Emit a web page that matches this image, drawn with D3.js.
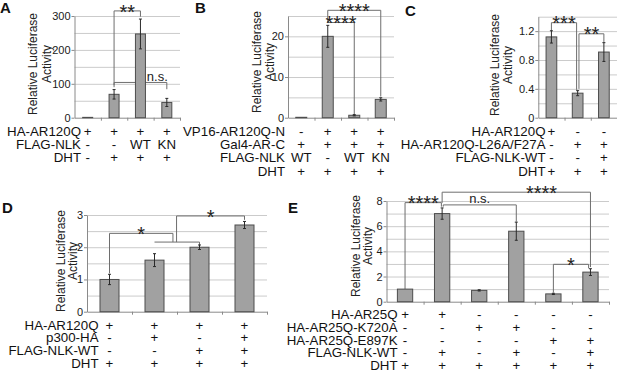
<!DOCTYPE html>
<html>
<head>
<meta charset="utf-8">
<script src="https://cdn.jsdelivr.net/npm/d3@7"></script>
<style>
  body { margin: 0; background: #fff; }
  svg { display: block; font-family: "Liberation Sans", Arial, sans-serif; }
  .grid line { stroke: #cbcbcb; }
  .grid path { display: none; }
  .axis path, .axis line { stroke: #8a8a8a; }
  .axis text { font-size: 11px; fill: #1a1a1a; }
  .bar { fill: #a1a1a1; stroke: #4d4d4d; stroke-width: 1; }
  .err { stroke: #2a2a2a; fill: none; }
  .bracket { stroke: #6e6e6e; fill: none; }
  .row { font-size: 13.3px; fill: #111; }
  .ytitle { font-size: 12px; fill: #222; }
  .letter { font-size: 15px; font-weight: bold; fill: #111; }
</style>
</head>
<body>
<svg id="fig" width="617" height="372"></svg>
<script>
// ---- panel A ----
var aValues = [1, 69, 247, 45];
var aErrors = [0, 14, 44, 12];
var aTicks = [0, 100, 200, 300];
var aRows = ["HA-AR120Q", "FLAG-NLK", "DHT"];
var aMarks = [["+", "+", "+", "+"], ["-", "-", "WT", "KN"], ["-", "+", "+", "+"]];
var aBrackets = [
  {from: 1, to: 3, y: 104, left: 90, right: 84, label: "n.s.", at: 2.64},
  {from: 1, to: 2, y: 315, left: 96, right: 298, label: "**"}
];

// ---- panel B ----
var bValues = [0.1, 20, 0.6, 4.5];
var bErrors = [0, 2.7, 0.15, 0.4];
var bTicks = [0, 10, 20];
var bRows = ["VP16-AR120Q-N", "Gal4-AR-C", "FLAG-NLK", "DHT"];
var bMarks = [["-", "+", "+", "+"], ["+", "+", "+", "+"], ["WT", "-", "WT", "KN"], ["+", "+", "+", "+"]];
var bBrackets = [
  {from: 1, to: 3, y: 26.4, left: 23.4, right: 5.2, label: "****"},
  {from: 1, to: 2, y: 23.4, left: null, right: 0.7, label: "****"}
];

// ---- panel C ----
var cValues = [1.12, 0.34, 0.91];
var cErrors = [0.085, 0.035, 0.13];
var cTicks = [0, 0.4, 0.8, 1.2];
var cRows = ["HA-AR120Q", "HA-AR120Q-L26A/F27A", "FLAG-NLK-WT", "DHT"];
var cMarks = [["+", "-", "-"], ["-", "+", "+"], ["-", "-", "+"], ["+", "+", "+"]];
var cBrackets = [
  {from: 0, to: 0.96, y: 1.317, left: 1.2, right: 0.386, label: "***"},
  {from: 1.05, to: 2, y: 1.163, left: 0.4, right: 1.05, label: "**"}
];

// ---- panel D ----
var dValues = [1.0, 1.6, 2.0, 2.69];
var dErrors = [0.16, 0.2, 0.07, 0.11];
var dTicks = [0, 1, 2, 3];
var dRows = ["HA-AR120Q", "p300-HA", "FLAG-NLK-WT", "DHT"];
var dMarks = [["+", "+", "+", "+"], ["-", "+", "-", "+"], ["-", "-", "+", "+"], ["+", "+", "+", "+"]];
var dBrackets = [
  {from: 0, to: 1.41, y: 2.43, left: 1.19, right: 2.16, label: "*"},
  {from: 1, to: 2, y: 2.16, left: null, right: 2.07, label: ""},
  {from: 1.49, to: 3, y: 2.97, left: 2.16, right: 2.85, label: "*"}
];

// ---- panel E ----
var eValues = [1.0, 7.0, 0.9, 5.6, 0.62, 2.35];
var eErrors = [0, 0.45, 0.05, 0.72, 0.05, 0.27];
var eTicks = [0, 2, 4, 6, 8];
var eRows = ["HA-AR25Q", "HA-AR25Q-K720A", "HA-AR25Q-E897K", "FLAG-NLK-WT", "DHT"];
var eMarks = [
  ["+", "+", "-", "-", "-", "-"],
  ["-", "-", "+", "+", "-", "-"],
  ["-", "-", "-", "-", "+", "+"],
  ["-", "+", "-", "+", "-", "+"],
  ["+", "+", "+", "+", "+", "+"]
];
var eBrackets = [
  {from: 0, to: 0.98, y: 7.87, left: 1.01, right: 7.55, label: "****"},
  {from: 1.03, to: 3, y: 7.69, left: 7.55, right: 6.36, label: "n.s."},
  {from: 1.0, to: 5, y: 8.7, left: 7.85, right: 2.75, label: "****", at: 3.68},
  {from: 4, to: 4.95, y: 2.97, left: 0.72, right: 2.65, label: "*"}
];

var svg = d3.select("#fig");

function panel(geom, values, errors, ticks, rows, marks, brackets) {
  var n = values.length;
  var g = svg.append("g");

  var x = d3.scaleLinear()
    .domain([-0.5, n - 0.5])
    .range([geom.left, geom.right]);
  var y = d3.scaleLinear()
    .domain([0, geom.max])
    .range([geom.zero, geom.top]);

  var gridVals = d3.range(1, Math.round(geom.max / geom.grid) + 1).map(function(i) { return i * geom.grid; });

  g.append("g")
    .attr("class", "grid")
    .attr("transform", "translate(" + geom.left + ",0)")
    .call(d3.axisLeft(y).tickValues(gridVals).tickSize(-(geom.right - geom.left)).tickFormat(""));

  g.append("g")
    .attr("class", "axis")
    .attr("transform", "translate(" + geom.left + ",0)")
    .call(d3.axisLeft(y).tickValues(ticks).tickSize(3).tickSizeOuter(0).tickPadding(1)
      .tickFormat(function(d) { return d; }));

  g.append("g")
    .attr("class", "axis")
    .attr("transform", "translate(0," + geom.zero + ")")
    .call(d3.axisBottom(x).tickValues(d3.range(n).map(function(i) { return i + 0.5; }))
      .tickSize(3).tickSizeOuter(0).tickFormat(""));

  // brackets go under the bars
  brackets.forEach(function(b) {
    var x1 = x(b.from), x2 = x(b.to), yy = y(b.y);
    var d = "M" + x1 + "," + yy + "H" + x2;
    if (b.left != null) d += "M" + x1 + "," + yy + "V" + y(b.left);
    if (b.right != null) d += "M" + x2 + "," + yy + "V" + y(b.right);
    g.append("path").attr("class", "bracket").attr("d", d);

    if (!b.label) return;
    var cx = x(b.at != null ? b.at : (b.from + b.to) / 2);
    if (b.label.charAt(0) == "*") {
      g.append("text")
        .attr("x", cx).attr("y", yy + 7.6)
        .attr("text-anchor", "middle")
        .style("font-size", "20px").style("fill", "#222")
        .text(b.label);
    } else {
      g.append("text")
        .attr("x", cx).attr("y", yy - 1.5)
        .attr("text-anchor", "middle")
        .style("font-size", "13px").style("fill", "#222")
        .text(b.label);
    }
  });

  g.selectAll(".bar")
    .data(values).enter()
    .append("rect")
    .attr("class", "bar")
    .attr("x", function(d, i) { return x(i) - geom.barW / 2; })
    .attr("y", function(d) { return y(d); })
    .attr("width", geom.barW)
    .attr("height", function(d) { return geom.zero - y(d); });

  g.selectAll(".err")
    .data(values).enter()
    .append("path")
    .attr("class", "err")
    .attr("d", function(d, i) {
      var e = errors[i];
      if (!e) return null;
      var cx = x(i), t = y(d + e), bt = y(d - e);
      return "M" + cx + "," + t + "V" + bt +
        "M" + (cx - 1.5) + "," + t + "H" + (cx + 1.5) +
        "M" + (cx - 1.5) + "," + bt + "H" + (cx + 1.5);
    });

  // y title, two lines
  [["Relative Luciferase", geom.t1], ["Activity", geom.t2]].forEach(function(l) {
    g.append("text")
      .attr("class", "ytitle")
      .attr("text-anchor", "middle")
      .attr("transform", "translate(" + l[1] + "," + geom.tmid + ") rotate(-90)")
      .text(l[0]);
  });

  // condition table under the bars
  rows.forEach(function(r, j) {
    var cy = geom.row0 + j * geom.rowGap;
    g.append("text")
      .attr("class", "row")
      .attr("x", geom.labelRight).attr("y", cy).attr("dy", "0.36em")
      .attr("text-anchor", "end")
      .text(r);
    g.selectAll(null)
      .data(marks[j]).enter()
      .append("text")
      .attr("class", "row")
      .attr("x", function(d, i) { return x(i); })
      .attr("y", cy).attr("dy", "0.36em")
      .attr("text-anchor", "middle")
      .text(function(d) { return d; });
  });

  g.append("text")
    .attr("class", "letter")
    .attr("x", geom.lx).attr("y", geom.ly)
    .text(geom.letter);
}

panel({letter: "A", lx: 0, ly: 13, left: 74.5, right: 180, zero: 117.7, top: 16, max: 300, grid: 50, barW: 10,
       t1: 37, t2: 51, tmid: 64, row0: 131.5, rowGap: 13.1, labelRight: 81},
      aValues, aErrors, aTicks, aRows, aMarks, aBrackets);

panel({letter: "B", lx: 195, ly: 13, left: 288, right: 394, zero: 117.7, top: 16, max: 25, grid: 5, barW: 11,
       t1: 261, t2: 273.5, tmid: 62, row0: 131.5, rowGap: 13.1, labelRight: 285},
      bValues, bErrors, bTicks, bRows, bMarks, bBrackets);

panel({letter: "C", lx: 405, ly: 15.5, left: 538.3, right: 617, zero: 117.7, top: 16.7, max: 1.4, grid: 0.2, barW: 10.7,
       t1: 499, t2: 511.5, tmid: 65, row0: 131.5, rowGap: 13.1, labelRight: 545.5},
      cValues, cErrors, cTicks, cRows, cMarks, cBrackets);

panel({letter: "D", lx: 2, ly: 213, left: 87, right: 267, zero: 311.7, top: 215, max: 3, grid: 0.5, barW: 19,
       t1: 65, t2: 77, tmid: 261, row0: 325, rowGap: 12.6, labelRight: 98.5},
      dValues, dErrors, dTicks, dRows, dMarks, dBrackets);

panel({letter: "E", lx: 288, ly: 213, left: 386.5, right: 609, zero: 301.7, top: 201, max: 8, grid: 1, barW: 15.3,
       t1: 360, t2: 372, tmid: 246, row0: 314.5, rowGap: 12.7, labelRight: 397.5},
      eValues, eErrors, eTicks, eRows, eMarks, eBrackets);
</script>
</body>
</html>
